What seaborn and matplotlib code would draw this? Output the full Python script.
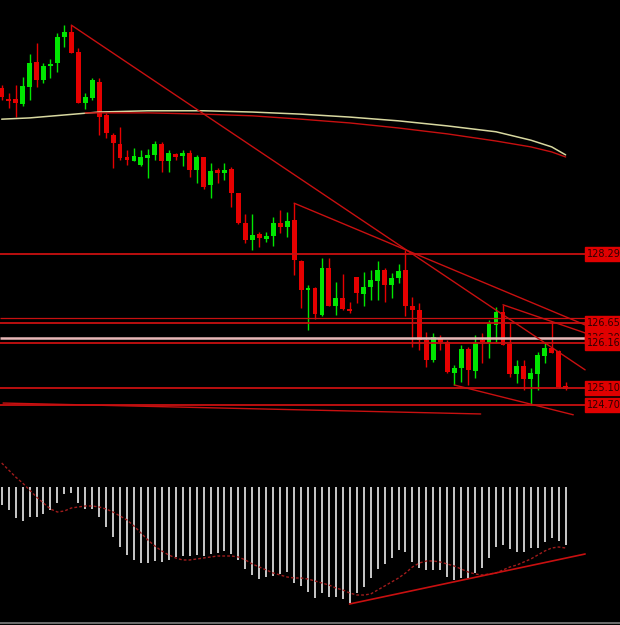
import matplotlib
matplotlib.use("Agg")
import matplotlib.pyplot as plt
import matplotlib.transforms as mtransforms
import seaborn as sns
import pandas as pd
import numpy as np

# candles
OPEN = [132.24, 131.98, 131.98, 131.86, 132.27, 132.86, 132.43, 132.77, 132.84, 133.46,
        133.58, 133.10, 131.89, 132.00, 132.39, 131.60, 131.12, 130.91, 130.60, 130.50,
        130.41, 130.58, 130.65, 130.91, 130.50, 130.67, 130.62, 130.70, 130.29, 130.60,
        129.93, 130.29, 130.22, 130.31, 129.74, 129.03, 128.62, 128.77, 128.65, 128.72,
        129.03, 128.93, 129.10, 128.12, 127.43, 127.48, 126.84, 127.96, 127.05, 127.24,
        126.98, 127.74, 127.34, 127.50, 127.65, 127.91, 127.55, 127.72, 127.91, 127.05,
        126.96, 126.24, 125.77, 126.29, 126.20, 125.46, 125.58, 126.03, 125.50, 126.24,
        126.17, 126.60, 126.91, 126.14, 125.43, 125.62, 125.31, 125.43, 125.86, 126.05,
        125.98, 125.15]
CLOSE = [132.03, 131.93, 131.89, 132.29, 132.84, 132.43, 132.77, 132.81, 133.46, 133.58,
         133.08, 131.89, 132.03, 132.43, 131.55, 131.17, 130.93, 130.58, 130.53, 130.62,
         130.60, 130.65, 130.91, 130.50, 130.70, 130.60, 130.70, 130.29, 130.60, 129.89,
         130.27, 130.22, 130.29, 129.74, 129.03, 128.62, 128.74, 128.67, 128.72, 129.03,
         128.93, 129.08, 128.15, 127.43, 127.48, 126.86, 127.96, 127.05, 127.24, 126.98,
         126.93, 127.36, 127.50, 127.67, 127.91, 127.55, 127.72, 127.89, 127.05, 126.96,
         126.24, 125.77, 126.31, 126.20, 125.48, 125.58, 126.03, 125.53, 126.17, 126.20,
         126.65, 126.91, 126.12, 125.43, 125.62, 125.31, 125.46, 125.89, 126.05, 125.93,
         125.12, 125.08]
HIGH = [132.31, 132.12, 132.31, 132.50, 133.05, 133.31, 132.84, 132.93, 133.55, 133.74,
        133.74, 133.20, 132.12, 132.48, 132.48, 131.65, 131.17, 131.31, 130.77, 130.81,
        130.77, 130.79, 130.98, 130.96, 130.77, 130.70, 130.77, 130.77, 130.65, 130.60,
        130.46, 130.34, 130.46, 130.36, 129.74, 129.24, 129.24, 128.81, 128.81, 129.17,
        129.34, 129.29, 129.50, 128.15, 127.55, 127.50, 128.20, 128.20, 127.62, 127.81,
        127.15, 127.74, 127.86, 127.91, 128.12, 127.96, 127.84, 128.05, 128.39, 127.27,
        127.12, 126.43, 126.41, 126.36, 126.24, 125.65, 126.12, 126.08, 126.36, 126.41,
        126.72, 127.03, 127.08, 126.65, 125.77, 125.77, 125.58, 125.96, 126.20, 126.67,
        126.00, 125.24]
LOW = [131.96, 131.77, 131.55, 131.81, 131.96, 132.27, 132.36, 132.48, 132.62, 133.22,
       133.08, 131.89, 131.74, 131.96, 131.12, 131.05, 130.34, 130.53, 130.41, 130.50,
       130.39, 130.10, 130.53, 130.24, 130.24, 130.53, 130.39, 130.12, 129.98, 129.84,
       129.62, 129.98, 130.05, 129.41, 129.00, 128.55, 128.39, 128.46, 128.58, 128.48,
       128.79, 128.70, 127.79, 127.00, 126.48, 126.74, 126.81, 127.05, 126.84, 126.96,
       126.89, 127.12, 127.05, 127.20, 127.20, 127.15, 127.24, 127.60, 126.81, 126.08,
       126.00, 125.60, 125.72, 126.00, 125.46, 125.17, 125.24, 125.17, 125.34, 125.70,
       125.81, 126.20, 126.12, 125.36, 125.22, 125.05, 124.70, 125.05, 125.70, 125.93,
       125.10, 125.05]

# moving averages, read at a few bars
MA_SLOW_IDX = [0, 4, 9, 14, 21, 29, 36, 43, 50, 57, 64, 71, 76, 79, 81]
MA_SLOW = [131.50, 131.53, 131.60, 131.67, 131.70, 131.70, 131.67, 131.62, 131.55,
           131.46, 131.34, 131.20, 131.00, 130.84, 130.65]
MA_FAST_IDX = [12, 14, 21, 29, 36, 43, 50, 57, 64, 71, 76, 79, 81]
MA_FAST = [131.65, 131.65, 131.65, 131.62, 131.58, 131.50, 131.41, 131.29, 131.15,
           130.98, 130.84, 130.72, 130.60]

# horizontal levels and their labels
LEVELS = [128.29, 126.77, 126.65, 126.30, 126.16, 125.10, 124.70]
LEVEL_LABELS = ["128.29", "126.65", "126.30", "126.16", "125.10", "124.70"]

# trend lines: (bar from, price from, bar to, price to)
TRENDS = [(10, 133.74, 83.8, 125.53),
          (42, 129.50, 83.8, 126.60),
          (72, 127.08, 83.8, 126.41),
          (65, 125.17, 82.1, 124.46),
          (0.2, 124.74, 68.8, 124.48)]

# MACD (histogram) and signal
MACD = [-0.18, -0.23, -0.31, -0.34, -0.30, -0.30, -0.27, -0.23, -0.16, -0.07, -0.06,
        -0.16, -0.22, -0.22, -0.30, -0.40, -0.50, -0.60, -0.68, -0.73, -0.76,
        -0.76, -0.74, -0.75, -0.73, -0.70, -0.69, -0.69, -0.68, -0.69, -0.67,
        -0.66, -0.64, -0.67, -0.73, -0.82, -0.88, -0.92, -0.90, -0.89, -0.87,
        -0.85, -0.96, -0.99, -1.05,
        -1.11, -1.06, -1.10, -1.10, -1.12, -1.16, -1.06, -1.00, -0.91, -0.82,
        -0.77, -0.71, -0.63, -0.65, -0.75, -0.81, -0.83, -0.83, -0.83, -0.90,
        -0.93, -0.91, -0.91, -0.86, -0.81, -0.71, -0.60, -0.58, -0.62, -0.65,
        -0.65, -0.61, -0.61, -0.55, -0.51, -0.54, -0.58]
SIGNAL = [0.24, 0.17, 0.10, 0.04, -0.03, -0.10, -0.16, -0.22, -0.25, -0.24,
          -0.21, -0.20, -0.19, -0.19, -0.20, -0.22, -0.25, -0.29, -0.33, -0.39,
          -0.46, -0.53, -0.59, -0.64, -0.68, -0.71, -0.73, -0.73, -0.72, -0.71,
          -0.70, -0.69, -0.69, -0.69, -0.70, -0.73, -0.77, -0.80, -0.83, -0.86,
          -0.88, -0.90, -0.91, -0.91, -0.92, -0.94, -0.96, -0.98, -1.01, -1.03,
          -1.06, -1.08, -1.08, -1.07, -1.03, -0.99, -0.95, -0.91, -0.86, -0.80,
          -0.76, -0.74, -0.74, -0.75, -0.77, -0.79, -0.82, -0.85, -0.87, -0.88,
          -0.87, -0.86, -0.83, -0.80, -0.78, -0.75, -0.72, -0.68, -0.64, -0.61,
          -0.60, -0.61]
MACD_TREND = (49.96, -1.17, 83.8, -0.67)

RED = '#e60000'
GREEN = '#00e600'
LINE_RED = '#c81010'

sns.set_style("dark", {"axes.facecolor": "black", "figure.facecolor": "black"})

df = pd.DataFrame({"bar": np.arange(len(OPEN)), "open": OPEN, "high": HIGH,
                   "low": LOW, "close": CLOSE, "macd": MACD, "signal": SIGNAL})
df["up"] = df["close"] >= df["open"]
colors = np.where(df["up"], GREEN, RED)

fig = plt.figure(figsize=(6.2, 6.25), dpi=100)
fig.patch.set_facecolor("black")
ax = fig.add_axes([0, 0.296, 1, 0.704])
ax2 = fig.add_axes([0, 0.0032, 1, 0.2688])
XLIM = (-0.243, 88.81)

# candles
body_lo = df[["open", "close"]].min(axis=1)
body_h = (df["close"] - df["open"]).abs().clip(lower=0.035)
ax.vlines(df["bar"], df["low"], df["high"], colors=colors, lw=1, zorder=2)
ax.bar(df["bar"], body_h, bottom=body_lo, width=0.7, color=colors, lw=0, zorder=3)

# moving averages
sns.lineplot(x=MA_SLOW_IDX, y=MA_SLOW, ax=ax, color='#d8d8a0', lw=1.1, zorder=4)
sns.lineplot(x=MA_FAST_IDX, y=MA_FAST, ax=ax, color=LINE_RED, lw=1, zorder=4)

# levels
for lv in LEVELS:
    if lv == 126.30:
        ax.hlines(lv, XLIM[0], 83.8, color='#e8b8b8', lw=1.8, zorder=5)
    elif lv == 126.77:
        ax.hlines(lv, XLIM[0], 83.8, color=LINE_RED, lw=0.9, zorder=5)
    else:
        ax.hlines(lv, XLIM[0], 83.8, color=LINE_RED, lw=1.3, zorder=5)

for x0, y0, x1, y1 in TRENDS:
    ax.plot([x0, x1], [y0, y1], color=LINE_RED, lw=1, zorder=5)

trans = mtransforms.blended_transform_factory(ax.transAxes, ax.transData)
for txt in LEVEL_LABELS:
    ax.text(0.947, float(txt), txt, transform=trans, fontsize=7, color='#300000',
            va='center', ha='left', zorder=6,
            bbox=dict(facecolor='#e00000', edgecolor='#e00000', pad=1.4))

ax.set_xlim(*XLIM)
ax.set_ylim(123.86, 134.338)
ax.axis("off")

# MACD panel
ax2.vlines(df["bar"], 0, df["macd"], colors='white', lw=1.1, zorder=2)
sns.lineplot(data=df, x="bar", y="signal", ax=ax2, color='#a01c1c', lw=1,
             linestyle=(0, (2, 1.5)), zorder=3)
ax2.plot([MACD_TREND[0], MACD_TREND[2]], [MACD_TREND[1], MACD_TREND[3]],
         color=LINE_RED, lw=1.2, zorder=4)
ax2.set_xlim(*XLIM)
ax2.set_ylim(-1.36, 0.32)
ax2.axis("off")

fig.add_artist(plt.Line2D([0, 1], [0.0035, 0.0035], color='#808080', lw=1.2))

fig.savefig("out.png", dpi=100, facecolor="black")
